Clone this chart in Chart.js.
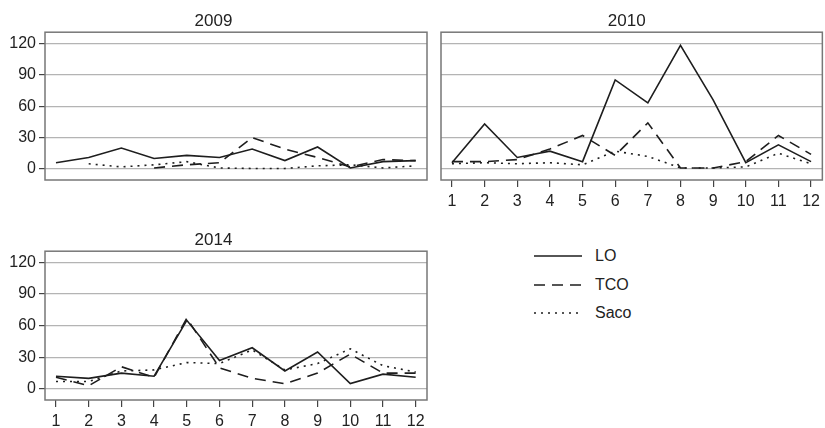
<!DOCTYPE html>
<html>
<head>
<meta charset="utf-8">
<script src="https://cdn.jsdelivr.net/npm/chart.js@4.4.1/dist/chart.umd.min.js"></script>
<style>
  body { margin: 0; background: #fff; }
  #wrap { position: relative; width: 825px; height: 428px; background: #fff; }
  .panel { position: absolute; }
  #legend { position: absolute; left: 534px; top: 242px; font-family: "Liberation Sans", Arial, sans-serif; font-size: 16px; color: #222; }
  #legend .row { display: flex; align-items: center; height: 28.5px; }
  #legend svg { margin-right: 13px; }
</style>
</head>
<body>
<div id="wrap">
  <canvas id="c2009" class="panel" style="left:0;top:0" width="430" height="193"></canvas>
  <canvas id="c2010" class="panel" style="left:430px;top:0" width="395" height="215"></canvas>
  <canvas id="c2014" class="panel" style="left:0;top:220px" width="430" height="208"></canvas>
  <div id="legend"></div>
</div>
<script>
// Meses y valores
const months = [1, 2, 3, 4, 5, 6, 7, 8, 9, 10, 11, 12];
const yTicks = [0, 30, 60, 90, 120];
const seriesNames = ['LO', 'TCO', 'Saco'];

const lo2009 = [6, 11, 20, 10, 13, 11, 19, 8, 21, 1, 7, 8];
const tco2009 = [null, null, null, 1, 4, 6, 30, 19, 11, 2, 9, 8];
const saco2009 = [null, 5, 2, 4, 7, 1, 0.5, 0.5, 3, 4, 1, 3];

const lo2010 = [6, 43, 11, 17, 7, 85, 63, 118, 66, 6, 23, 7];
const tco2010 = [7, 7, 9, 19, 32, 13, 44, 1, 1, 7, 32, 14];
const saco2010 = [5, 6, 5, 6, 4, 17, 12, 1, 1, 2, 15, 5];

const lo2014 = [12, 10, 15, 12, 65, 27, 39, 17, 35, 5, 14, 11];
const tco2014 = [11, 3, 21, 11, 67, 20, 10, 5, 15, 33, 15, 15];
const saco2014 = [7, 7, 17, 18, 25, 24, 37, 18, 24, 38, 22, 16];

const FONT = '"Liberation Sans", Arial, sans-serif';
const LINE_COLOR = '#1e1e1e';
const dashes = { LO: [], TCO: [11, 7], Saco: [2, 5] };

// Marco gris alrededor del área de la gráfica
const framePlugin = {
  id: 'frame',
  afterDraw(chart) {
    const { ctx, chartArea: a } = chart;
    ctx.save();
    ctx.strokeStyle = '#777';
    ctx.lineWidth = 1.5;
    ctx.strokeRect(a.left, a.top, a.right - a.left, a.bottom - a.top);
    ctx.restore();
  }
};

function toPoints(values) {
  return months.map((m, i) => ({ x: m, y: values[i] }));
}

function makeDataset(name, values) {
  return {
    label: name,
    data: toPoints(values),
    borderColor: LINE_COLOR,
    borderWidth: 1.6,
    borderDash: dashes[name],
    pointRadius: 0,
    tension: 0,
    spanGaps: false
  };
}

// Crear un panel por año
function makePanel(id, title, lists, opt) {
  const ctx = document.getElementById(id);
  return new Chart(ctx, {
    type: 'line',
    data: {
      datasets: seriesNames.map((n, i) => makeDataset(n, lists[i]))
    },
    options: {
      responsive: false,
      animation: false,
      layout: { padding: { left: 0, right: opt.padRight, top: 0, bottom: 0 } },
      plugins: {
        legend: { display: false },
        tooltip: { enabled: false },
        title: {
          display: true,
          text: title,
          color: '#222',
          font: { family: FONT, size: 17, weight: 'normal' },
          padding: { top: opt.titleTop, bottom: 0.5 }
        }
      },
      scales: {
        x: {
          type: 'linear',
          min: 0.664,
          max: 12.346,
          afterFit: s => { s.height = opt.xHeight; },
          border: { display: false },
          grid: {
            display: opt.xTicks,
            drawOnChartArea: false,
            tickLength: 7,
            tickColor: '#444',
            lineWidth: 1.2
          },
          ticks: {
            display: opt.xTicks,
            stepSize: 1,
            includeBounds: false,
            padding: 5,
            color: '#222',
            font: { family: FONT, size: 16 }
          }
        },
        y: {
          min: -10.5,
          max: 130.5,
          afterFit: s => { s.width = opt.yWidth; },
          afterBuildTicks: s => { s.ticks = yTicks.map(v => ({ value: v })); },
          border: { display: false },
          grid: {
            color: '#b4b4b4',
            lineWidth: 1.2,
            drawTicks: opt.yTicks,
            tickLength: 6,
            tickColor: '#444'
          },
          ticks: {
            display: opt.yTicks,
            padding: 3,
            color: '#222',
            font: { family: FONT, size: 16 }
          }
        }
      }
    },
    plugins: [framePlugin]
  });
}

makePanel('c2009', '2009', [lo2009, tco2009, saco2009],
  { padRight: 3, titleTop: 11.3, xHeight: 13, xTicks: false, yWidth: 45, yTicks: true });
makePanel('c2010', '2010', [lo2010, tco2010, saco2010],
  { padRight: 1.5, titleTop: 11.3, xHeight: 35, xTicks: true, yWidth: 11, yTicks: false });
makePanel('c2014', '2014', [lo2014, tco2014, saco2014],
  { padRight: 3, titleTop: 10.3, xHeight: 28, xTicks: true, yWidth: 45, yTicks: true });

// Leyenda compartida
const legend = document.getElementById('legend');
seriesNames.forEach(name => {
  const row = document.createElement('div');
  row.className = 'row';
  row.innerHTML =
    '<svg width="48" height="4"><line x1="0" y1="2" x2="48" y2="2" stroke="' + LINE_COLOR +
    '" stroke-width="1.6" stroke-dasharray="' + dashes[name].join(' ') + '"/></svg>' +
    '<span>' + name + '</span>';
  legend.appendChild(row);
});
</script>
</body>
</html>
